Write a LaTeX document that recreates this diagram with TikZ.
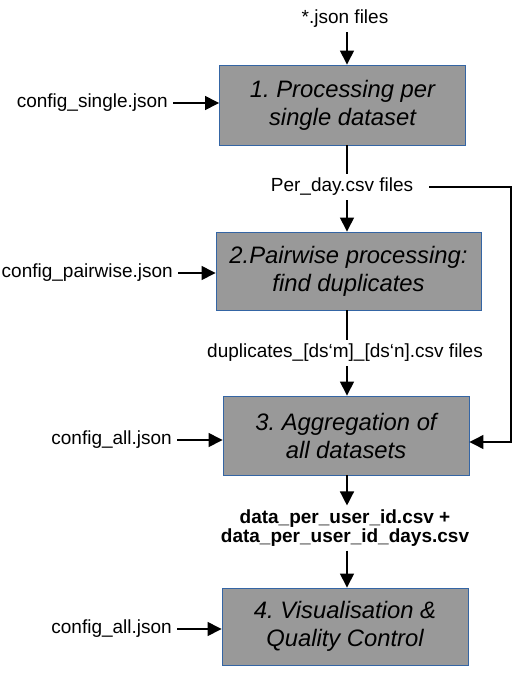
\documentclass[tikz,border=0pt]{standalone}
\usepackage{fontspec}
\setmainfont{Liberation Sans}
\usetikzlibrary{arrows.meta}
\definecolor{boxfill}{HTML}{999999}
\definecolor{boxline}{HTML}{3465A4}
\frenchspacing
\begin{document}
\begin{tikzpicture}[x=1pt,y=-1pt,
  proc/.style={draw=boxline, line width=0.9pt, fill=boxfill, align=center,
    font=\fontsize{23.8}{28}\selectfont\itshape, inner sep=0pt},
  lbl/.style={font=\fontsize{19}{19}\selectfont, inner sep=4pt, align=center},
  cfg/.style={font=\fontsize{19}{19}\selectfont, inner xsep=5pt, inner ysep=3pt, anchor=east},
  arr/.style={line width=1.4pt, -{Triangle[length=14pt,width=14pt]}},
  ln/.style={line width=1.4pt}]
\useasboundingbox (0,0) rectangle (515,673);
\coordinate (col) at (347,0);

\node[proc, minimum width=246pt, minimum height=80pt] (b1) at (342.5,105) {1. Processing per\\single dataset};
\node[proc, minimum width=265pt, minimum height=78pt] (b2) at (348.5,271) {2.Pairwise processing:\\find duplicates};
\node[proc, minimum width=246pt, minimum height=79pt] (b3) at (346,435.5) {3. Aggregation of\\all datasets};
\node[proc, minimum width=246pt, minimum height=77pt] (b4) at (345,626.5) {4. Visualisation \&\\Quality Control};

\node[lbl] (json) at (345,19) {*.json files};
\node[lbl] (perday) at (342,187) {Per\_day.csv files};
\node[lbl] (dup) at (345,353) {duplicates\_[ds‘m]\_[ds‘n].csv files};
\node[lbl, font=\fontsize{19}{19}\selectfont\bfseries] (data) at (345,528) {data\_per\_user\_id.csv +\\data\_per\_user\_id\_days.csv};

\node[cfg] (c1) at (173,103) {config\_single.json};
\node[cfg] (c2) at (178,273) {config\_pairwise.json};
\node[cfg] (c3) at (177,440) {config\_all.json};
\node[cfg] (c4) at (177,629) {config\_all.json};

\draw[arr] (json.south -| col) -- (b1.north -| col);
\draw[ln] (b1.south -| col) -- (perday.north -| col);
\draw[arr] (perday.south -| col) -- (b2.north -| col);
\draw[ln] (b2.south -| col) -- (dup.north -| col);
\draw[arr] (dup.south -| col) -- (b3.north -| col);
\draw[arr] (b3.south -| col) -- (data.north -| col);
\draw[arr] (data.south -| col) -- (b4.north -| col);

\draw[arr] (c1.east) -- (c1.east -| b1.west);
\draw[arr] (c2.east) -- (c2.east -| b2.west);
\draw[arr] (c3.east) -- (c3.east -| b3.west);
\draw[arr] (c4.east) -- (c4.east -| b4.west);

\coordinate (fb) at (511,442);
\draw[arr, line width=1.2pt] ([xshift=12pt]perday.east) -| (fb) -- (fb -| b3.east);
\end{tikzpicture}
\end{document}
